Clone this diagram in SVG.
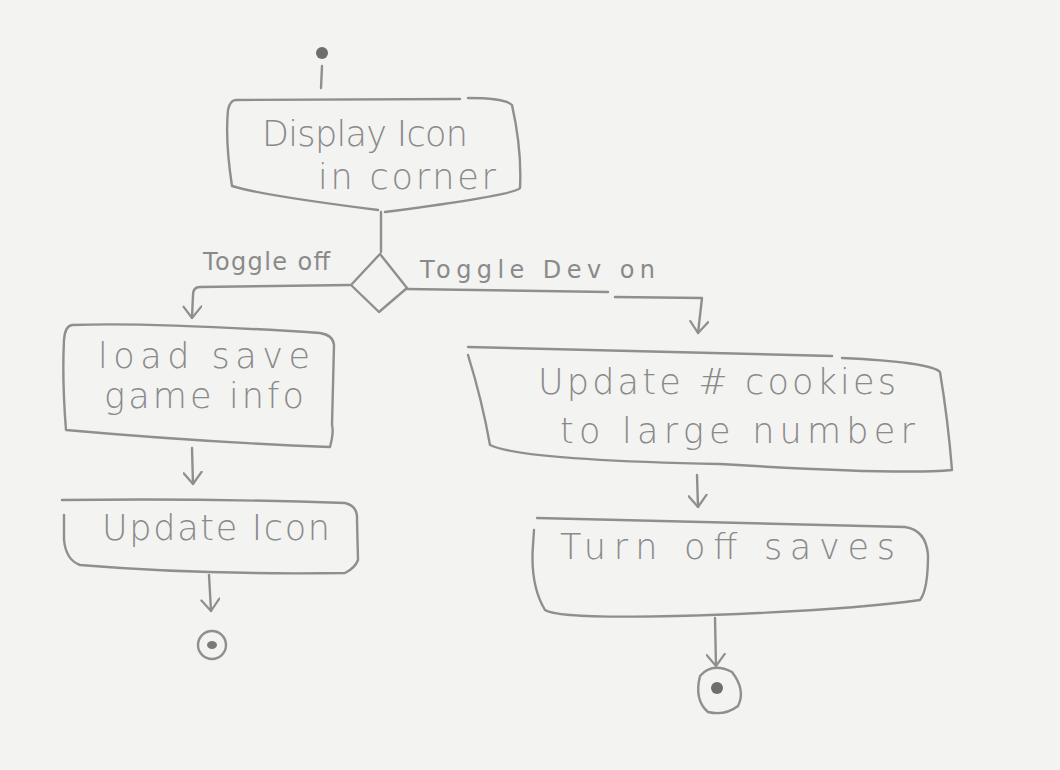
<svg xmlns="http://www.w3.org/2000/svg" width="1060" height="770" viewBox="0 0 1060 770">
<style>
.ln{fill:none;stroke:#8f8f8f;stroke-width:2.4;stroke-linecap:round;stroke-linejoin:round}
.tx{font-family:"DejaVu Sans","Liberation Sans",sans-serif;font-weight:300;fill:#8a8a8a;font-size:35px}
.lb{font-family:"DejaVu Sans","Liberation Sans",sans-serif;fill:#8a8a8a;font-size:24px}
</style>
<defs>
<marker id="arr" viewBox="0 0 14 20" refX="13" refY="10" markerWidth="14" markerHeight="20" markerUnits="userSpaceOnUse" orient="auto">
<path d="M1,1 L13,10 L2,19" fill="none" stroke="#8f8f8f" stroke-width="2.2" stroke-linecap="round" stroke-linejoin="round"/>
</marker>
</defs>
<rect width="1060" height="770" fill="#f3f3f1"/>

<g id="start">
<circle cx="322" cy="53" r="6" fill="#6e6e6e"/>
</g>

<g id="display-icon">
<path class="ln" d="M236,100 L460,99 M468,98 Q505,98 512,105 Q522,150 520,188 Q515,195 385,212 M378,210 Q260,195 232,186 Q225,140 228,110 Q230,100 236,100"/>
<text class="tx" x="262" y="146" textLength="206" lengthAdjust="spacing">Display Icon</text>
<text class="tx" x="318" y="189" textLength="178" lengthAdjust="spacing">in corner</text>
</g>

<g id="decision">
<path class="ln" d="M380,254 L407,288 L379,312 L351,285 Z"/>
</g>

<g id="load-save">
<path class="ln" d="M72,325 Q150,322 320,333 Q333,335 334,345 L332,425 Q334,432 330,447 Q200,442 66,430 Q62,380 64,340 Q65,326 72,325"/>
<text class="tx" x="98" y="368" textLength="212" lengthAdjust="spacing">load save</text>
<text class="tx" x="104" y="408" textLength="200" lengthAdjust="spacing">game info</text>
</g>

<g id="update-icon">
<path class="ln" d="M62,500 Q200,498 345,503 Q358,506 357,520 L358,560 Q355,568 345,573 Q200,575 80,565 Q66,560 64,540 L64,515"/>
<text class="tx" x="102" y="540" textLength="228" lengthAdjust="spacing">Update Icon</text>
</g>

<g id="end-left">
<circle class="ln" cx="212" cy="645" r="14"/>
<ellipse cx="212" cy="645" rx="5" ry="4" fill="#7a7a7a"/>
</g>

<g id="update-cookies">
<path class="ln" d="M468,347 L832,356 M842,358 Q930,362 940,372 Q948,420 952,470 Q900,475 720,464 Q520,460 490,445 Q482,400 468,355"/>
<text class="tx" x="538" y="394" textLength="358" lengthAdjust="spacing">Update # cookies</text>
<text class="tx" x="560" y="443" textLength="355" lengthAdjust="spacing">to large number</text>
</g>

<g id="turn-off-saves">
<path class="ln" d="M537,518 Q700,522 905,527 Q926,530 928,555 Q928,590 920,600 Q850,610 710,615 Q560,620 545,610 Q530,585 533,545 L534,530"/>
<text class="tx" x="560" y="559" textLength="335" lengthAdjust="spacing">Turn off saves</text>
</g>

<g id="end-right">
<path class="ln" d="M700,676 Q712,662 732,672 Q746,690 738,706 Q725,716 708,712 Q694,700 700,676 Z"/>
<ellipse cx="717" cy="688" rx="6" ry="6" fill="#6e6e6e"/>
</g>

<g id="connectors">
<path class="ln" d="M322,66 L321,88"/>
<path class="ln" d="M381,212 L381,252"/>
<path class="ln" d="M350,285 L200,287 Q193,287 193,295 L192,318" marker-end="url(#arr)"/>
<path class="ln" d="M407,289 L608,292 M615,297 L702,298 L698,333" marker-end="url(#arr)"/>
<path class="ln" d="M192,448 L193,484" marker-end="url(#arr)"/>
<path class="ln" d="M209,575 L211,611" marker-end="url(#arr)"/>
<path class="ln" d="M697,475 L698,507" marker-end="url(#arr)"/>
<path class="ln" d="M715,618 L716,666" marker-end="url(#arr)"/>
<text class="lb" x="203" y="270" textLength="127" lengthAdjust="spacing">Toggle off</text>
<text class="lb" x="420" y="278" textLength="235" lengthAdjust="spacing">Toggle Dev on</text>
</g>
</svg>
